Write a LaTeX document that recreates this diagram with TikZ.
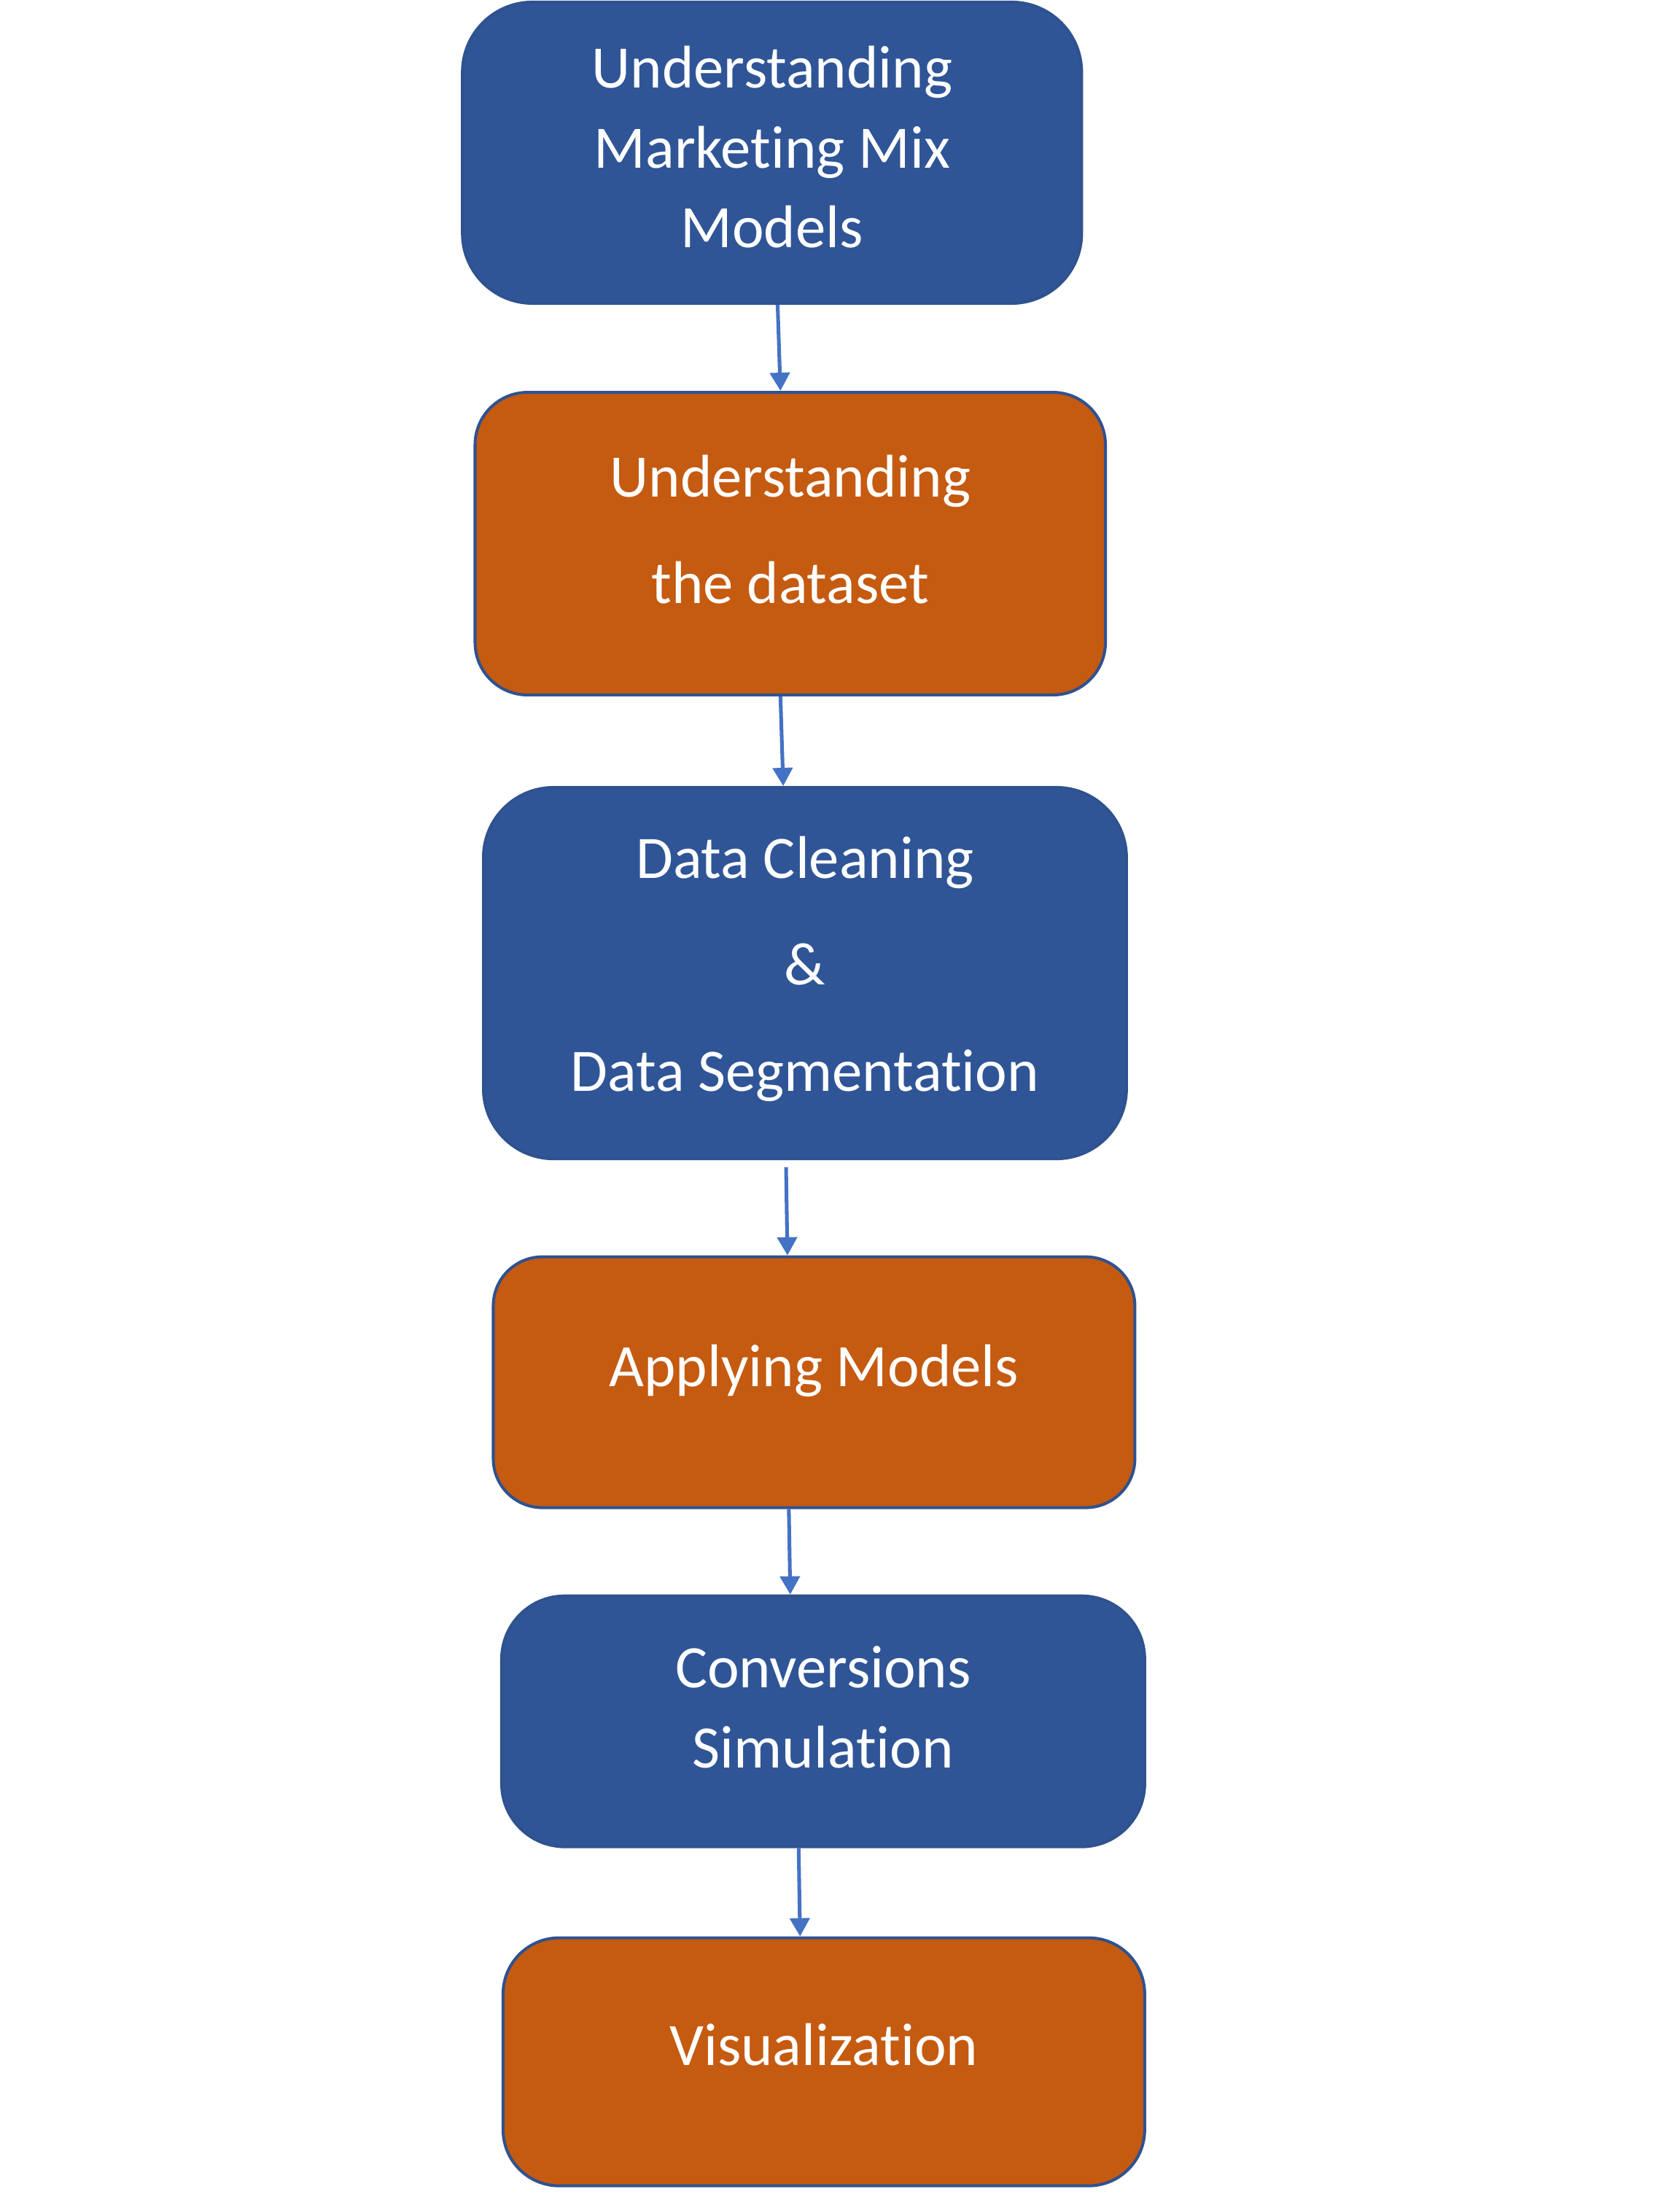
\documentclass[tikz,border=0pt]{standalone}
\usepackage{fontspec}
\setmainfont{Carlito}[Ligatures=NoCommon]
\usepackage{tikz}
\usetikzlibrary{arrows.meta}

\definecolor{stepblue}{HTML}{2F5597}
\definecolor{steporange}{HTML}{C55A11}
\definecolor{edgeblue}{HTML}{2F528F}
\definecolor{arrowblue}{HTML}{4472C4}

\begin{document}
\begin{tikzpicture}[x=0.02cm, y=-0.02cm,
    stepbox/.style={draw=edgeblue, line width=1.2pt},
    bluebox/.style={stepbox, fill=stepblue},
    orangebox/.style={stepbox, fill=steporange},
    steptext/.style={text=white, align=center, inner sep=0pt,
        font=\fontsize{24.5}{32.5}\selectfont},
    flow/.style={draw=arrowblue, line width=1.5pt, -{Triangle[width=0.28cm,length=0.26cm]}}]
    \useasboundingbox (0,0) rectangle (1199,1568);

    % Steps
    \node[bluebox, minimum width=8.84cm, minimum height=4.30cm, rounded corners=1.0cm] (mmm) at (551,109) {};
    \node[orangebox, minimum width=9.0cm, minimum height=4.32cm, rounded corners=0.75cm] (dataset) at (564,388) {};
    \node[bluebox, minimum width=9.18cm, minimum height=5.3cm, rounded corners=1.0cm] (cleaning) at (574.5,694.5) {};
    \node[orangebox, minimum width=9.16cm, minimum height=3.58cm, rounded corners=0.7cm] (models) at (581,986.5) {};
    \node[bluebox, minimum width=9.18cm, minimum height=3.58cm, rounded corners=0.9cm] (simulation) at (587.5,1228.5) {};
    \node[orangebox, minimum width=9.16cm, minimum height=3.54cm, rounded corners=0.8cm] (visual) at (588,1471.5) {};

    % Step texts
    \node[steptext] (mmmtext) at ([yshift=0.08cm]mmm.center) {Understanding\\Marketing Mix\\Models};
    \node[steptext] (datasettext) at ([yshift=0.2cm]dataset.center) {Understanding\\[0.38cm]the dataset};
    \node[steptext] (cleaningtext) at ([yshift=0.06cm]cleaning.center) {Data Cleaning\\[0.38cm]\&\\[0.38cm]Data Segmentation};
    \node[steptext] (modelstext) at ([yshift=0.16cm]models.center) {Applying Models};
    \node[steptext] (simulationtext) at ([yshift=0.2cm]simulation.center) {Conversions\\Simulation};
    \node[steptext] (visualtext) at ([yshift=0.24cm]visual.center) {Visualization};

    % Arrows
    \draw[flow] ([xshift=0.08cm]mmm.south) -- ([xshift=-0.14cm]dataset.north);
    \draw[flow] ([xshift=-0.14cm]dataset.south) -- ([xshift=-0.31cm]cleaning.north);
    \draw[flow] ([xshift=-0.27cm, yshift=-0.1cm]cleaning.south) -- ([xshift=-0.38cm]models.north);
    \draw[flow] ([xshift=-0.36cm]models.south) -- ([xshift=-0.47cm]simulation.north);
    \draw[flow] ([xshift=-0.35cm]simulation.south) -- ([xshift=-0.34cm]visual.north);
\end{tikzpicture}
\end{document}
